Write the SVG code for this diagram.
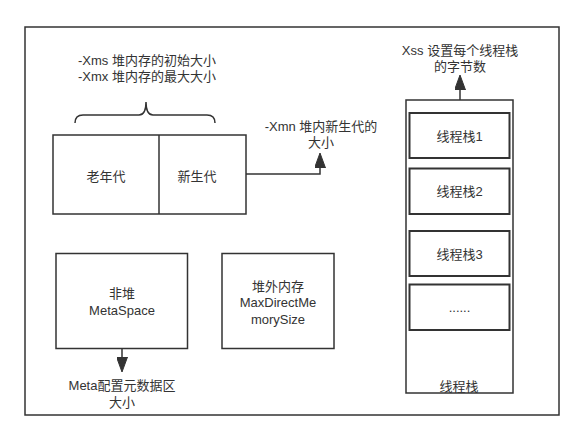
<svg xmlns="http://www.w3.org/2000/svg" width="584" height="440" viewBox="0 0 584 440">
<style>
.box{fill:#fff;stroke:#333;stroke-width:1.5}
.inner{fill:#fff;stroke:#333;stroke-width:2}
.line{fill:none;stroke:#333;stroke-width:1.5}
text{font-family:"Liberation Sans","Noto Sans CJK SC",sans-serif;font-size:13px;fill:#333;text-anchor:middle;dominant-baseline:central}
</style>
<defs>
<marker id="arrow" viewBox="0 0 15 11" refX="0" refY="5.5" markerWidth="15" markerHeight="11" markerUnits="userSpaceOnUse" orient="auto">
<path d="M0,0 L15,5.5 L0,11 Z" fill="#333" stroke="#333" stroke-width="1"/>
</marker>
</defs>
<rect width="584" height="440" fill="#fff"/>
<g id="container">
<rect class="box" x="25" y="27" width="534" height="388"/>
</g>
<g id="heap-label">
<text x="147" y="60">-Xms 堆内存的初始大小</text>
<text x="147" y="76.5">-Xmx 堆内存的最大大小</text>
<path class="line" d="M75,123 Q75,115 83,115 H139 Q146,115 146,102 Q146,115 153,115 H207 Q215,115 215,123"/>
</g>
<g id="heap">
<rect class="box" x="53" y="135" width="193" height="79"/>
<line class="line" x1="159" y1="135" x2="159" y2="214"/>
<text x="106" y="176">老年代</text>
<text x="197" y="176">新生代</text>
</g>
<g id="xmn-label">
<text x="321" y="126">-Xmn 堆内新生代的</text>
<text x="321" y="142">大小</text>
</g>
<g id="thread-stack">
<rect class="box" x="406" y="100" width="107" height="293"/>
<text x="459" y="386">线程栈</text>
</g>
<g id="thread1">
<rect class="inner" x="409.5" y="113" width="100" height="45"/>
<text x="459.5" y="136">线程栈1</text>
</g>
<g id="thread2">
<rect class="inner" x="409.5" y="168.5" width="100" height="45.5"/>
<text x="459.5" y="191">线程栈2</text>
</g>
<g id="thread3">
<rect class="inner" x="409.5" y="231" width="100" height="45"/>
<text x="459.5" y="254">线程栈3</text>
</g>
<g id="thread4">
<rect class="inner" x="409.5" y="284.5" width="100" height="45.5"/>
<text x="459.5" y="307">......</text>
</g>
<g id="xss-label">
<text x="460" y="50">Xss 设置每个线程栈</text>
<text x="460" y="66">的字节数</text>
</g>
<g id="metaspace">
<rect class="box" x="56" y="253.5" width="131.5" height="95"/>
<text x="122" y="293.5">非堆</text>
<text x="122" y="310">MetaSpace</text>
</g>
<g id="meta-label">
<text x="122" y="385.5">Meta配置元数据区</text>
<text x="122" y="402">大小</text>
</g>
<g id="direct-memory">
<rect class="box" x="222" y="253.5" width="112" height="95"/>
<text x="278" y="286">堆外内存</text>
<text x="278" y="302.5">MaxDirectMe</text>
<text x="278" y="319">morySize</text>
</g>
<g id="connectors">
<path class="line" d="M246,174 H320 V168" marker-end="url(#arrow)"/>
<path class="line" d="M460,100 V90" marker-end="url(#arrow)"/>
<path class="line" d="M122,348.5 V357" marker-end="url(#arrow)"/>
</g>
</svg>
